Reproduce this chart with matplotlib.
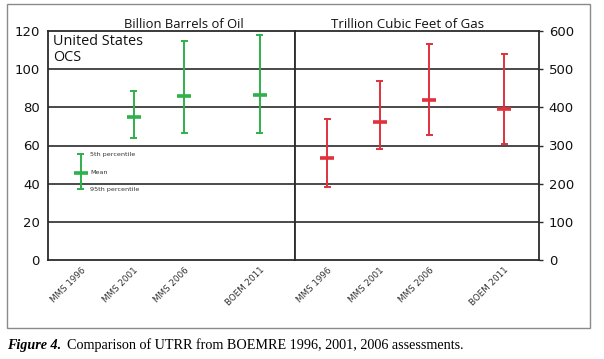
import matplotlib.pyplot as plt
from matplotlib.patches import Rectangle

assessments = ['MMS 1996', 'MMS 2001', 'MMS 2006', 'BOEM 2011']
slots = [0.65, 1.7, 2.7, 4.2]   # where each assessment sits inside a panel

# billion barrels of oil
oil_mean = [45.7, 74.9, 85.8, 86.6]
oil_p05 = [55.5, 88.6, 114.9, 118.1]
oil_p95 = [37.2, 63.8, 66.5, 66.5]

# trillion cubic feet of gas
gas_mean = [268, 362, 420, 396]
gas_p05 = [369, 469, 566, 541]
gas_p95 = [192, 292, 327, 303]

green = '#2eb04b'
red = '#e0313c'
gridc = '#2b2b2b'

fig = plt.figure(figsize=(6.04, 3.59), dpi=100)
fig.patches.append(Rectangle((7/604, 1-328/359), 583/604, 324/359, transform=fig.transFigure,
                             fill=False, ec='#8a8a8a', lw=1.0))

ax1 = fig.add_axes([48/604, 99/359, 247/604, 229/359])
ax2 = fig.add_axes([295/604, 99/359, 244/604, 229/359])

def draw(ax, mean, hi, lo, color):
    for x, m, h, l in zip(slots, mean, hi, lo):
        ax.vlines(x, l, h, color=color, lw=1.4, zorder=3)
        ax.hlines([l, h], x - 0.07, x + 0.07, color=color, lw=1.4, zorder=3)
        ax.hlines(m, x - 0.14, x + 0.14, color=color, lw=2.6, zorder=3)

draw(ax1, oil_mean, oil_p05, oil_p95, green)
draw(ax2, gas_mean, gas_p05, gas_p95, red)

for ax, top, step in [(ax1, 120, 20), (ax2, 600, 100)]:
    ax.set_xlim(0, 4.9)
    ax.set_ylim(0, top)
    ax.set_yticks(range(0, top + 1, step))
    ax.set_xticks(slots)
    ax.set_xticklabels(assessments, rotation=45, ha='right', va='top',
                       rotation_mode='anchor', fontsize=6.3, color='#333333',
                       family='Liberation Sans Narrow')
    ax.tick_params(axis='x', length=0, pad=4)
    for v in range(step, top, step):
        ax.axhline(v, color=gridc, lw=1.2, zorder=1)
    for s in ax.spines.values():
        s.set_color(gridc)
        s.set_linewidth(1.3)

ax1.tick_params(axis='y', length=0, pad=6, labelsize=9.5)
ax2.yaxis.tick_right()
ax2.tick_params(axis='y', length=3, width=1, pad=4, labelsize=9.5, color=gridc)
for t in ax1.get_yticklabels() + ax2.get_yticklabels():
    t.set_family('Liberation Sans Narrow')
    t.set_color('#111111')

ax1.set_title('Billion Barrels of Oil', fontsize=9.4, family='Open Sans', pad=2, x=0.55,
              color='#111111')
ax2.set_title('Trillion Cubic Feet of Gas', fontsize=9.5, family='Open Sans', pad=2, x=0.46,
              color='#111111')

ax1.text(0.022, 0.985, 'United States\nOCS', transform=ax1.transAxes, ha='left', va='top',
         fontsize=10.4, family='Open Sans', linespacing=1.05, color='#111111')

# key next to the first oil bar
x0 = slots[0]
for y, label in [(oil_p05[0], '5th percentile'), (oil_mean[0], 'Mean'),
                 (oil_p95[0], '95th percentile')]:
    ax1.annotate(label, (x0, y), xytext=(7, 0), textcoords='offset points',
                 fontsize=4.6, va='center', ha='left', color='#333333',
                 family='Liberation Sans Narrow')

# caption
fig_lbl = fig.text(7/604, 1-345/359, 'Figure 4.', fontsize=10.2, family='Liberation Serif',
                   weight='bold', style='italic', va='center', ha='left')
fig.add_artist(plt.Annotation('Comparison of UTRR from BOEMRE 1996, 2001, 2006 assessments.',
                              xy=(1, 0.5), xycoords=fig_lbl, xytext=(4, 0),
                              textcoords='offset points', fontsize=10.2,
                              family='Liberation Serif', va='center', ha='left',
                              annotation_clip=False))

fig.savefig('out.png', dpi=100)
